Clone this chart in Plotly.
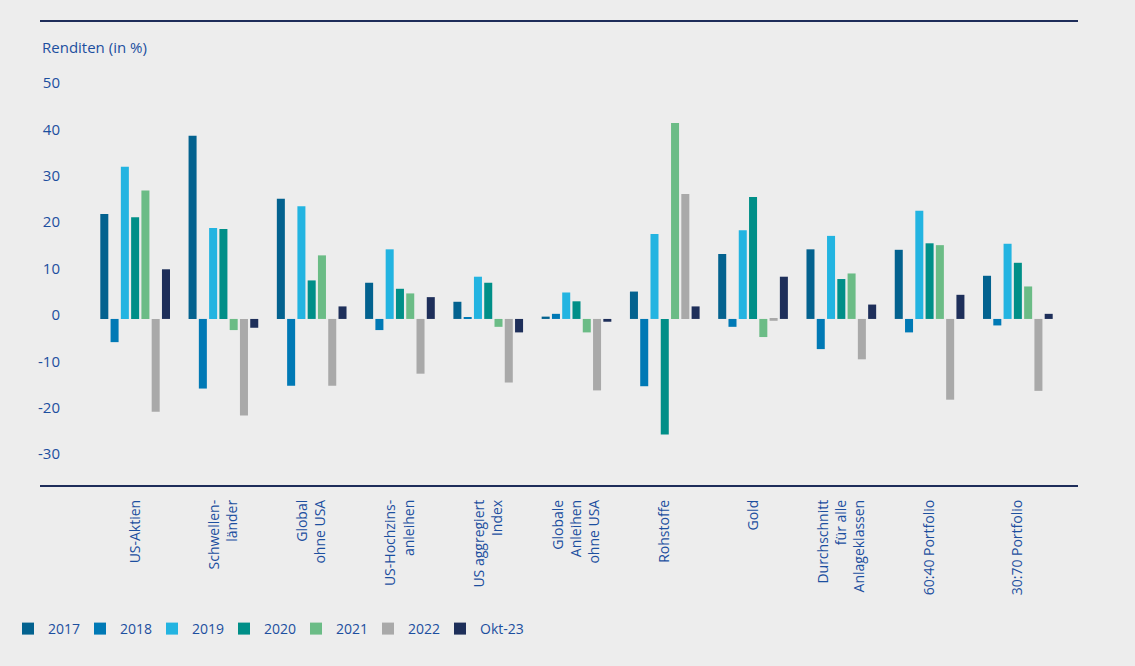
import plotly.graph_objects as go

categories = [
    "US-Aktien",
    "Schwellen-<br>länder",
    "Global<br>ohne USA",
    "US-Hochzins-<br>anleihen",
    "US aggregiert<br>Index",
    "Globale<br>Anleihen<br>ohne USA",
    "Rohstoffe",
    "Gold",
    "Durchschnitt<br>für alle<br>Anlageklassen",
    "60:40 Portfolio",
    "30:70 Portfolio",
]

series_names = ["2017", "2018", "2019", "2020", "2021", "2022", "Okt-23"]

v2017 = [22.6, 39.5, 25.9, 7.8, 3.7, 0.5, 5.9, 14.0, 15.0, 14.9, 9.3]
v2018 = [-5.0, -15.0, -14.4, -2.4, 0.3, 1.1, -14.5, -1.7, -6.5, -2.9, -1.4]
v2019 = [32.8, 19.6, 24.3, 15.0, 9.1, 5.7, 18.3, 19.1, 17.9, 23.3, 16.2]
v2020 = [21.9, 19.4, 8.3, 6.5, 7.8, 3.8, -24.9, 26.3, 8.6, 16.3, 12.1]
v2021 = [27.7, -2.4, 13.7, 5.5, -1.7, -2.9, 42.2, -3.9, 9.8, 15.9, 7.0]
v2022 = [-20.0, -20.8, -14.4, -11.8, -13.7, -15.4, 26.9, -0.4, -8.7, -17.4, -15.5]
vokt23 = [10.7, -1.9, 2.7, 4.7, -2.9, -0.6, 2.7, 9.1, 3.1, 5.2, 1.1]

series_values = [v2017, v2018, v2019, v2020, v2021, v2022, vokt23]
colors = ["#03628f", "#0079b5", "#23b4e1", "#008f88", "#6bbc86", "#a9a9a9", "#1e2f5a"]

y_ticks = [50, 40, 30, 20, 10, 0, -10, -20, -30]

BG = "#ededed"
TEXT = "#1c4f9f"
NAVY = "#1e2d5a"
FONT = "Open Sans"

fig = go.Figure()
for name, vals, col in zip(series_names, series_values, colors):
    fig.add_trace(go.Bar(x=categories, y=vals, name=name, marker_color=col,
                         marker_line_width=0))
# invisible spacer entry so the last legend label is not clipped
fig.add_trace(go.Scatter(x=[None], y=[None], name=" ", mode="markers",
                         marker=dict(color="rgba(0,0,0,0)"), hoverinfo="skip"))

W, H = 1135, 666
plot_left, plot_right, plot_top, plot_bottom = 91, 1062, 60, 486
L = plot_left
R = W - plot_right
T = plot_top
B = H - plot_bottom
pw = W - L - R
ph = H - T - B

def px_x(x):
    return (x - L) / pw

def px_y(y):
    return (H - B - y) / ph

fig.update_layout(
    width=W, height=H,
    margin=dict(l=L, r=R, t=T, b=B, autoexpand=False),
    paper_bgcolor=BG,
    plot_bgcolor=BG,
    barmode="group",
    bargap=0.185,
    bargroupgap=0.22,
    font=dict(family=FONT, size=14, color=TEXT),
    showlegend=True,
    legend=dict(
        orientation="h",
        xref="container", yref="container",
        x=8 / W, y=(H - 629) / H, xanchor="left", yanchor="middle",
        entrywidth=27, entrywidthmode="pixels",
        font=dict(family=FONT, size=14, color=TEXT),
        bgcolor="rgba(0,0,0,0)",
        itemclick=False,
    ),
    xaxis=dict(
        showgrid=False, zeroline=False, showline=False,
        tickangle=-90, ticks="", ticklabelstandoff=10,
        tickfont=dict(family=FONT, size=14, color=TEXT),
        automargin=False,
    ),
    yaxis=dict(
        range=[-36.0, 55.8],
        tickvals=y_ticks,
        ticktext=[str(v) for v in y_ticks],
        showgrid=False, zeroline=False, showline=False,
        ticks="", ticklabelstandoff=30, ticklabelshift=-4,
        tickfont=dict(family=FONT, size=15, color=TEXT),
        automargin=False,
    ),
)

fig.add_shape(type="line", xref="paper", yref="paper",
              x0=px_x(40), x1=px_x(1078), y0=px_y(21), y1=px_y(21),
              line=dict(color=NAVY, width=2))
fig.add_shape(type="line", xref="paper", yref="paper",
              x0=px_x(40), x1=px_x(1078), y0=px_y(486), y1=px_y(486),
              line=dict(color=NAVY, width=2))

fig.add_annotation(text="Renditen (in %)", xref="paper", yref="paper",
                   x=px_x(40), y=px_y(47), xanchor="left", yanchor="middle",
                   showarrow=False, font=dict(family=FONT, size=15, color=TEXT))

fig.write_html(
    "out.html",
    config={"displayModeBar": False},
    post_script="document.body.style.margin='0';document.body.style.background='#ededed';",
)
